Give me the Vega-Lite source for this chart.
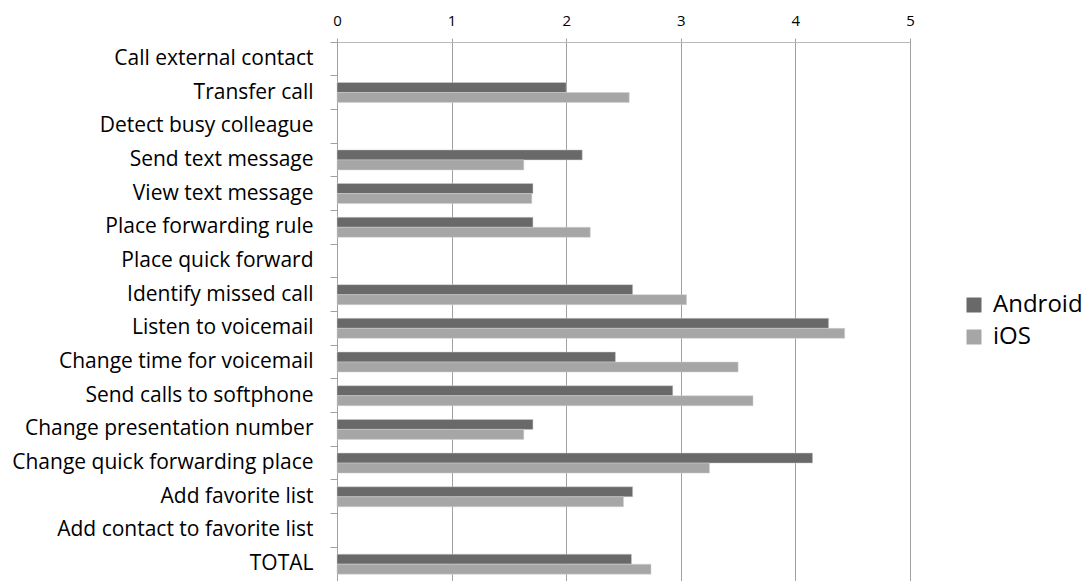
{
  "$schema": "https://vega.github.io/schema/vega-lite/v6.json",
  "autosize": "none",
  "width": 573,
  "height": 539,
  "padding": {"left": 337, "top": 42, "right": 176, "bottom": 0},
  "background": "white",
  "config": {"view": {"stroke": null}, "font": "Open Sans"},
  "data": {"values": [
    {"task": "Transfer call", "os": "Android", "value": 2.0},
    {"task": "Transfer call", "os": "iOS", "value": 2.55},
    {"task": "Send text message", "os": "Android", "value": 2.14},
    {"task": "Send text message", "os": "iOS", "value": 1.63},
    {"task": "View text message", "os": "Android", "value": 1.71},
    {"task": "View text message", "os": "iOS", "value": 1.70},
    {"task": "Place forwarding rule", "os": "Android", "value": 1.71},
    {"task": "Place forwarding rule", "os": "iOS", "value": 2.21},
    {"task": "Identify missed call", "os": "Android", "value": 2.58},
    {"task": "Identify missed call", "os": "iOS", "value": 3.05},
    {"task": "Listen to voicemail", "os": "Android", "value": 4.29},
    {"task": "Listen to voicemail", "os": "iOS", "value": 4.43},
    {"task": "Change time for voicemail", "os": "Android", "value": 2.43},
    {"task": "Change time for voicemail", "os": "iOS", "value": 3.50},
    {"task": "Send calls to softphone", "os": "Android", "value": 2.93},
    {"task": "Send calls to softphone", "os": "iOS", "value": 3.63},
    {"task": "Change presentation number", "os": "Android", "value": 1.71},
    {"task": "Change presentation number", "os": "iOS", "value": 1.63},
    {"task": "Change quick forwarding place", "os": "Android", "value": 4.15},
    {"task": "Change quick forwarding place", "os": "iOS", "value": 3.25},
    {"task": "Add favorite list", "os": "Android", "value": 2.58},
    {"task": "Add favorite list", "os": "iOS", "value": 2.50},
    {"task": "TOTAL", "os": "Android", "value": 2.57},
    {"task": "TOTAL", "os": "iOS", "value": 2.74}
  ]},
  "mark": {"type": "bar", "stroke": "#d0d0d0", "strokeWidth": 0.5},
  "encoding": {
    "y": {
      "field": "task", "type": "nominal", "title": null,
      "sort": null,
      "scale": {
        "domain": ["Call external contact", "Transfer call", "Detect busy colleague", "Send text message", "View text message", "Place forwarding rule", "Place quick forward", "Identify missed call", "Listen to voicemail", "Change time for voicemail", "Send calls to softphone", "Change presentation number", "Change quick forwarding place", "Add favorite list", "Add contact to favorite list", "TOTAL"],
        "paddingInner": 0, "paddingOuter": 0
      },
      "axis": {
        "bandPosition": 0,
        "labelFontSize": 21, "labelColor": "#000000", "labelPadding": 17,
        "tickSize": 7, "tickColor": "#a0a0a0", "domainColor": "#a0a0a0",
        "labelBound": false, "labelOverlap": false, "labelLimit": 400,
        "labelBaseline": "middle"
      }
    },
    "yOffset": {
      "field": "os", "type": "nominal",
      "scale": {"domain": ["Android", "iOS"], "paddingInner": 0, "paddingOuter": 0.68}
    },
    "x": {
      "field": "value", "type": "quantitative", "title": null,
      "scale": {"domain": [0, 5], "nice": false, "zero": true},
      "axis": {
        "orient": "top", "values": [0, 1, 2, 3, 4, 5], "format": "d",
        "labelFontSize": 15, "labelColor": "#000000", "labelPadding": 10,
        "tickSize": 4, "tickColor": "#a0a0a0", "domainColor": "#b8b8b8",
        "grid": true, "gridColor": "#a0a0a0", "labelFlush": false
      }
    },
    "color": {
      "field": "os", "type": "nominal", "title": null,
      "scale": {"domain": ["Android", "iOS"], "range": ["#696969", "#a6a6a6"]},
      "legend": {
        "orient": "none", "legendX": 625, "legendY": 251,
        "symbolType": "square", "symbolSize": 225, "symbolStrokeWidth": 0,
        "labelFontSize": 24, "labelColor": "#000000", "rowPadding": 8,
        "labelOffset": 7
      }
    }
  }
}
